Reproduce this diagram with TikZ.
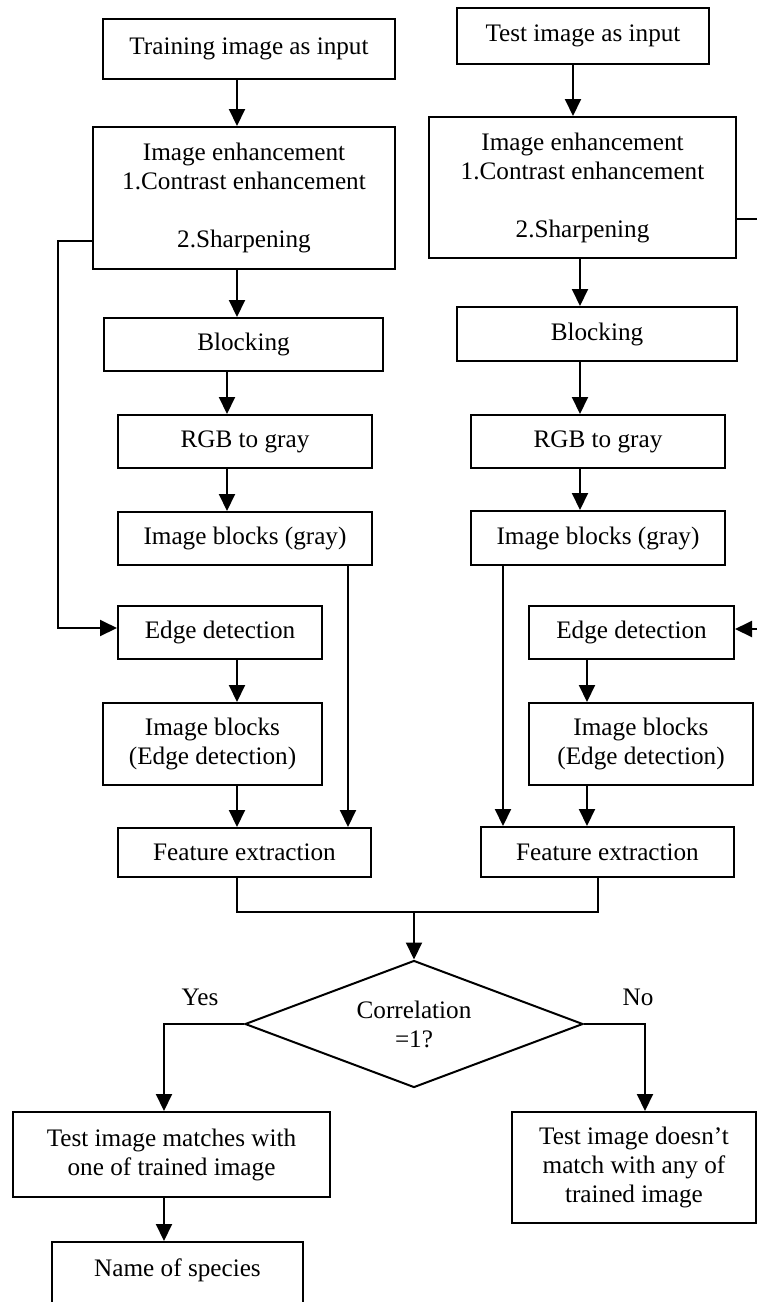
\documentclass[tikz,border=0pt]{standalone}
\usepackage{fontspec}
\setmainfont{Liberation Serif}
\usetikzlibrary{shapes.geometric,arrows.meta}
\begin{document}
\begin{tikzpicture}[x=0.5pt,y=-0.5pt,
  txt/.style={font=\fontsize{12.6}{14.5}\selectfont},
  bx/.style 2 args={draw,line width=1pt,inner sep=0pt,align=center,txt,
     minimum width=#1*0.5pt,minimum height=#2*0.5pt},
  dia/.style={draw,diamond,aspect=2.66,line width=1pt,inner sep=0pt,align=center,txt,
     minimum width=338*0.5pt,minimum height=127*0.5pt},
  arr/.style={line width=1pt,-{Triangle[width=8pt,length=8.5pt]}},
  ln/.style={line width=1pt}]
\useasboundingbox (0,0) rectangle (757,1302);
\clip (0,0) rectangle (757,1302);

% left column
\node[bx={292}{60}] (tr) at (249,49) {Training image as input};
\node[bx={302}{142}] (le) at (244,198) {Image enhancement\\1.Contrast enhancement\\~\\2.Sharpening};
\node[bx={279}{53}] (lb) at (243.5,344.5) {Blocking};
\node[bx={254}{53}] (lrgb) at (245,441.5) {RGB to gray};
\node[bx={254}{53}] (lig) at (245,538.5) {Image blocks (gray)};
\node[bx={204}{53}] (led) at (220,632.5) {Edge detection};
\node[bx={219}{82}] (lie) at (212.5,744) {Image blocks\\(Edge detection)};
\node[bx={253}{49}] (lfe) at (244.5,852.5) {Feature extraction};

% right column
\node[bx={252}{56}] (te) at (583,36) {Test image as input};
\node[bx={307}{141}] (re) at (582.5,187.5) {Image enhancement\\1.Contrast enhancement\\~\\2.Sharpening};
\node[bx={280}{54}] (rb) at (597,334) {Blocking};
\node[bx={254}{53}] (rrgb) at (598,441.5) {RGB to gray};
\node[bx={254}{54}] (rig) at (598,538) {Image blocks (gray)};
\node[bx={205}{53}] (red) at (631.5,632.5) {Edge detection};
\node[bx={224}{82}] (rie) at (641,744) {Image blocks\\(Edge detection)};
\node[bx={253}{50}] (rfe) at (607.5,852) {Feature extraction};

% decision part
\node[dia] (dia) at (414,1024) {Correlation\\=1?};
\node[txt] (ylab) at (200,997) {Yes};
\node[txt] (nlab) at (638,997) {No};
\node[bx={317}{85}] (yes) at (171.5,1154.5) {Test image matches with\\one of trained image};
\node[draw,line width=1pt,inner sep=0pt,txt,anchor=north,minimum width=251*0.5pt,
      text height=17pt,text depth=45pt] (name) at (177.5,1241) {Name of species};
\node[bx={244}{111}] (no) at (634,1167.5) {Test image doesn’t\\match with any of\\trained image};

% left connectors
\draw[arr] (tr.south -| 237,0) -- (le.north -| 237,0);
\draw[arr] (le.south -| 237,0) -- (lb.north -| 237,0);
\draw[arr] (lb.south -| 227,0) -- (lrgb.north -| 227,0);
\draw[arr] (lrgb.south -| 227,0) -- (lig.north -| 227,0);
\draw[arr] (led.south -| 237,0) -- (lie.north -| 237,0);
\draw[arr] (lie.south -| 237,0) -- (lfe.north -| 237,0);
\draw[arr] (lig.south -| 348,0) -- (lfe.north -| 348,0);
\draw[arr] (le.west |- 0,241) -- (58,241) -- (58,628) -- (led.west |- 0,628);

% right connectors
\draw[arr] (te.south -| 573,0) -- (re.north -| 573,0);
\draw[arr] (re.south -| 580,0) -- (rb.north -| 580,0);
\draw[arr] (rb.south -| 580,0) -- (rrgb.north -| 580,0);
\draw[arr] (rrgb.south -| 580,0) -- (rig.north -| 580,0);
\draw[arr] (red.south -| 587,0) -- (rie.north -| 587,0);
\draw[arr] (rie.south -| 587,0) -- (rfe.north -| 587,0);
\draw[arr] (rig.south -| 503,0) -- (rfe.north -| 503,0);
\coordinate (rout) at (757,219);
\draw[ln] (re.east |- rout) -- (rout);
\coordinate (rin) at (757,629);
\draw[arr] (rin) -- (red.east |- rin);

% merge and decision
\coordinate (jn) at (414,912);
\draw[ln] (lfe.south -| 237,0) |- (jn) -| (rfe.south -| 598,0);
\draw[arr] (jn) -- (dia.north);
\draw[arr] (dia.west) -| (yes.north -| 164,0);
\draw[arr] (dia.east) -| (no.north -| 645,0);
\draw[arr] (yes.south -| 164,0) -- (name.north -| 164,0);
\end{tikzpicture}
\end{document}
